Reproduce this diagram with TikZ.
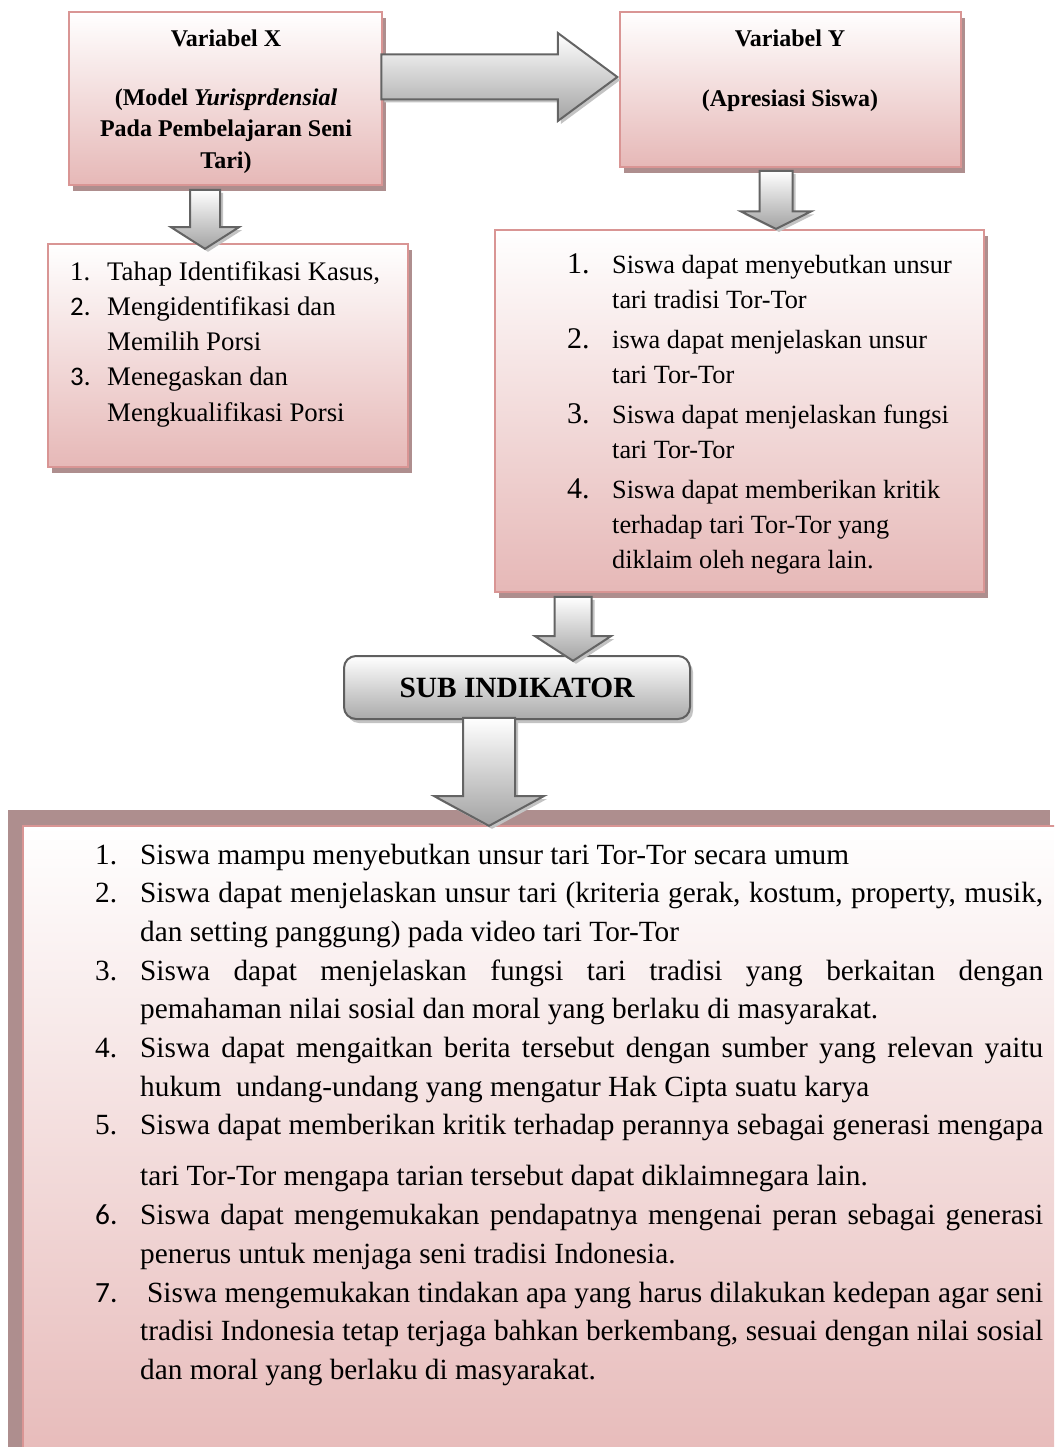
\documentclass[tikz,border=0pt]{standalone}
\usepackage{fontspec}
\setmainfont{Liberation Serif}
\newfontfamily\calibri{Carlito}
\usepackage{tikz}
\usetikzlibrary{shapes.arrows,shadows}

\definecolor{pinkbot}{RGB}{230,184,183}
\definecolor{pinkline}{RGB}{217,149,148}
\definecolor{pinkshade}{RGB}{174,142,142}
\definecolor{arrowline}{RGB}{100,100,100}
\definecolor{arrowbot}{RGB}{163,163,163}
\definecolor{arrowshade}{RGB}{195,195,195}
\definecolor{graybot}{RGB}{170,170,170}
\definecolor{grayline}{RGB}{95,95,95}

\newcommand{\jline}[1]{\makebox[903pt][s]{#1}}
\newcommand{\bignr}[1]{{\fontsize{30}{35}\selectfont #1}}

\begin{document}
\begin{tikzpicture}[x=1pt, y=-1pt]
    \tikzset{
        pinkbox/.style={draw=pinkline, line width=2pt, top color=white, bottom color=pinkbot, inner sep=0pt},
        boxshadow/.style={drop shadow={shadow xshift=4pt, shadow yshift=-6pt, fill=pinkshade, opacity=1}},
        graybox/.style={draw=grayline, line width=2pt, rounded corners=12pt, top color=white, bottom color=graybot,
            inner sep=0pt, font=\fontsize{29.4}{35}\selectfont\bfseries,
            drop shadow={shadow xshift=3pt, shadow yshift=-4pt, fill=arrowshade, opacity=1}},
        blockarrow/.style={single arrow, draw=arrowline, line width=2pt, top color=white, bottom color=arrowbot,
            single arrow head indent=0pt, anchor=tip,
            drop shadow={shadow xshift=3pt, shadow yshift=-3pt, fill=arrowshade, opacity=1}},
        headtext/.style={inner sep=0pt, font=\fontsize{24}{31.5}\selectfont\bfseries},
        listtext/.style={inner sep=0pt, font=\fontsize{26.8}{35.3}\selectfont},
        bottext/.style={inner sep=0pt, font=\fontsize{29.3}{38.7}\selectfont}
    }
    \useasboundingbox (0,0) rectangle (1054,1447);
    \clip (0,0) rectangle (1054,1447);

    % variabel boxes
    \node[pinkbox, boxshadow, minimum width=313pt, minimum height=173pt] (varx) at (225.5,98.5) {};
    \node[pinkbox, boxshadow, minimum width=341pt, minimum height=155pt] (vary) at (790.5,89.5) {};
    \node[headtext, anchor=base] (varxt) at (226,47) {\begin{tabular}[t]{@{}c@{}}Variabel X\\[27pt]
        (Model \textit{Yurisprdensial}\\ Pada Pembelajaran Seni\\ Tari)\end{tabular}};
    \node[headtext, anchor=base] (varyt) at (790,47) {\begin{tabular}[t]{@{}c@{}}Variabel Y\\[28pt]
        (Apresiasi Siswa)\end{tabular}};

    % indikator boxes
    \node[pinkbox, boxshadow, minimum width=360pt, minimum height=223pt] (indx) at (228,355.5) {};
    \node[pinkbox, boxshadow, minimum width=489pt, minimum height=362pt] (indy) at (739.5,411) {};
    \node[listtext, anchor=base west] (indxt) at (70,280) {\begin{tabular}[t]{@{}p{37pt}@{}l@{}}
        1. & Tahap Identifikasi Kasus,\\
        {\calibri 2.} & Mengidentifikasi dan\\
        & Memilih Porsi\\
        {\calibri 3.} & Menegaskan dan\\
        & Mengkualifikasi Porsi
    \end{tabular}};
    \node[listtext, font=\fontsize{26.3}{35}\selectfont, anchor=base west] (indyt) at (567,273) {\begin{tabular}[t]{@{}p{45pt}@{}l@{}}
        \bignr{1.} & Siswa dapat menyebutkan unsur\\
        & tari tradisi Tor-Tor\\[5.5pt]
        \bignr{2.} & iswa dapat menjelaskan unsur\\
        & tari Tor-Tor\\[5pt]
        \bignr{3.} & Siswa dapat menjelaskan fungsi\\
        & tari Tor-Tor\\[5pt]
        \bignr{4.} & Siswa dapat memberikan kritik\\
        & terhadap tari Tor-Tor yang\\
        & diklaim oleh negara lain.
    \end{tabular}};

    % sub indikator
    \node[graybox, minimum width=346pt, minimum height=63pt] (subind) at (517,687.5) {SUB INDIKATOR};
    \node[pinkbox, minimum width=1042pt, minimum height=660pt,
        drop shadow={shadow xshift=-15pt, shadow yshift=16pt, fill=pinkshade, opacity=1}] (subbox) at (544,1156) {};
    \node[bottext, anchor=base west] (subt) at (95,864) {\begin{tabular}[t]{@{}p{45pt}@{}l@{}}
        1. & Siswa mampu menyebutkan unsur tari Tor-Tor secara umum\\
        2. & \jline{Siswa dapat menjelaskan unsur tari (kriteria gerak, kostum, property, musik,}\\
        & dan setting panggung) pada video tari Tor-Tor\\
        3. & \jline{Siswa dapat menjelaskan fungsi tari tradisi yang berkaitan dengan}\\
        & pemahaman nilai sosial dan moral yang berlaku di masyarakat.\\
        4. & \jline{Siswa dapat mengaitkan berita tersebut dengan sumber yang relevan yaitu}\\
        & hukum\ \ undang-undang yang mengatur Hak Cipta suatu karya\\
        5. & \jline{Siswa dapat memberikan kritik terhadap perannya sebagai generasi mengapa}\\[12.3pt]
        & tari Tor-Tor mengapa tarian tersebut dapat diklaimnegara lain.\\
        {\calibri 6.} & \jline{Siswa dapat mengemukakan pendapatnya mengenai peran sebagai generasi}\\
        & penerus untuk menjaga seni tradisi Indonesia.\\
        {\calibri 7.} & \jline{\hspace{7pt}Siswa mengemukakan tindakan apa yang harus dilakukan kedepan agar seni}\\
        & \jline{tradisi Indonesia tetap terjaga bahkan berkembang, sesuai dengan nilai sosial}\\
        & dan moral yang berlaku di masyarakat.
    \end{tabular}};

    % block arrows
    \node[blockarrow, inner xsep=0pt, inner ysep=21.5pt, minimum height=236pt, minimum width=86pt,
        single arrow head extend=21.5pt, single arrow tip angle=73] (ar1) at (619,77) {};
    \node[blockarrow, shape border rotate=270, inner sep=14pt, minimum height=59pt, minimum width=66pt,
        single arrow head extend=19pt, single arrow tip angle=115] (ar2) at (205,250) {};
    \node[blockarrow, shape border rotate=270, inner sep=15.5pt, minimum height=58pt, minimum width=68pt,
        single arrow head extend=18.5pt, single arrow tip angle=127] (ar3) at (776,230) {};
    \node[blockarrow, shape border rotate=270, inner sep=17.5pt, minimum height=64pt, minimum width=74pt,
        single arrow head extend=19.5pt, single arrow tip angle=114] (ar4) at (573,662) {};
    \node[blockarrow, shape border rotate=270, inner sep=25pt, minimum height=108pt, minimum width=108pt,
        single arrow head extend=29pt, single arrow tip angle=123] (ar5) at (489,827) {};
\end{tikzpicture}
\end{document}
